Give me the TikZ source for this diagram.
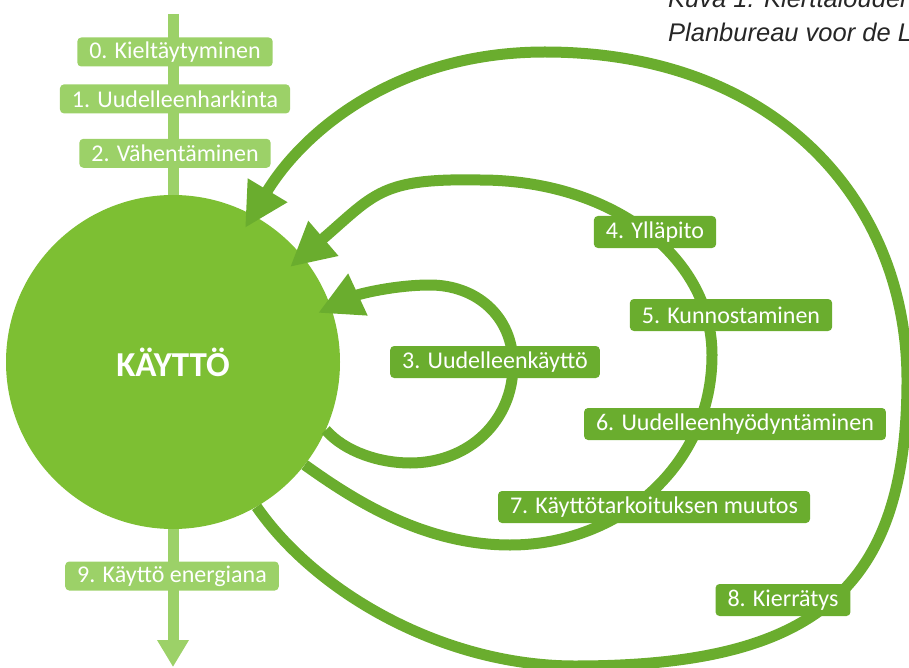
\documentclass[tikz,border=0pt]{standalone}
\usepackage{fontspec}
\setmainfont{Carlito}
\newfontfamily\capfont{Liberation Sans}
\usetikzlibrary{arrows.meta,positioning}
\definecolor{usegreen}{HTML}{7DBF33}
\definecolor{loopgreen}{HTML}{6AAD2E}
\definecolor{palegreen}{HTML}{9CD168}

\begin{document}
\begin{tikzpicture}[x=1pt,y=-1pt,
  rbox/.style={fill=loopgreen,text=white,rounded corners=4pt,inner xsep=12pt,inner ysep=0pt,
    minimum height=32pt,font=\fontsize{24}{28}\selectfont},
  lbox/.style={rbox,fill=palegreen,minimum height=29pt},
  loopline/.style={loopgreen,line width=11pt,-{Triangle[length=44pt,width=43pt]}},
  captext/.style={anchor=base west,inner sep=0pt,text=black!85,font=\capfont\itshape\fontsize{25.5}{30}\selectfont}
  ]
\useasboundingbox (0,0) rectangle (909,668);

% caption, cut by the page edge
\begin{scope}
\clip (0,0) rectangle (909,668);
\node[captext] (cap1) at (668,8) {Kuva 1. Kierttalouden};
\node[captext] (cap2) at (668,42) {Planbureau voor de L};
\end{scope}

% straight line through the centre
\coordinate (top) at (173,14);
\coordinate (bottom) at (173,667);
\draw[palegreen,line width=11pt,-{Triangle[length=27pt,width=30pt]}] (top) -- (bottom);

\node[circle,fill=usegreen,inner sep=0pt,minimum size=334pt,text=white,
  font=\bfseries\fontsize{35}{40}\selectfont] (kaytto) at (173,362) {KÄYTTÖ};

% loops back to use
\coordinate (tip3) at (318,313);
\coordinate (tip47) at (290,267);
\coordinate (tip8) at (245,228);
\draw[loopline] (kaytto.-24) .. controls (345,452) and (380,463) .. (410,463)
  .. controls (470,463) and (513,420) .. (513,365)
  .. controls (513,315) and (475,285) .. (430,285)
  .. controls (395,285) and (359,294) .. (tip3);
\draw[loopline] (kaytto.-38) .. controls (347,495) and (420,545) .. (510,545)
  .. controls (620,545) and (712,465) .. (712,355)
  .. controls (712,255) and (610,180) .. (480,180)
  .. controls (380,178) and (375,194) .. (tip47);
\draw[loopline] (kaytto.-60) .. controls (317,594) and (445,666) .. (575,666)
  .. controls (815,666) and (907,590) .. (907,380)
  .. controls (907,200) and (775,52) .. (545,52)
  .. controls (395,52) and (302,133) .. (tip8);

% labels
\node[lbox] (refuse) at (175,52) {0. Kieltäytyminen};
\node[lbox,below=17.5pt of refuse] (rethink) {1. Uudelleenharkinta};
\node[lbox,below=25pt of rethink] (reduce) {2. Vähentäminen};
\node[lbox] (energy) at (172,576) {9. Käyttö energiana};
\node[rbox] (reuse) at (495,362) {3. Uudelleenkäyttö};
\node[rbox] (maintain) at (655,232) {4. Ylläpito};
\node[rbox] (repair) at (731,315) {5. Kunnostaminen};
\node[rbox] (remanufacture) at (735,424) {6. Uudelleenhyödyntäminen};
\node[rbox] (repurpose) at (654,507) {7. Käyttötarkoituksen muutos};
\node[rbox] (recycle) at (783,600) {8. Kierrätys};
\end{tikzpicture}
\end{document}
